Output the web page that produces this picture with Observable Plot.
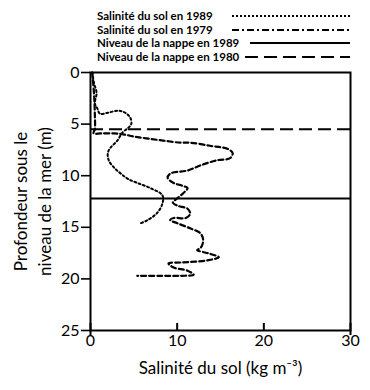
<!DOCTYPE html>
<html><head><meta charset="utf-8">
<script src="https://cdn.jsdelivr.net/npm/d3@7"></script>
<script src="https://cdn.jsdelivr.net/npm/@observablehq/plot@0.6"></script>
<style>
body{margin:0;background:#fff;font-family:Lato,"Open Sans",sans-serif;}
#legend{position:relative;width:370px;height:62px;}
.row{position:absolute;left:97px;font-weight:bold;font-size:11.5px;line-height:14px;color:#000;white-space:nowrap;}
.sample{position:absolute;}
</style>
</head><body>
<div id="legend"></div>
<div id="chart"></div>
<script>
// Salinité du sol en 1989 (kg m-3) vs depth (m)
const sal1989 = [0.2,0.4,0.7,0.5,0.8,1.1,2.0,3.2,4.0,4.6,4.7,4.3,3.7,3.1,2.3,2.0,2.1,2.7,3.5,4.3,5.4,6.9,8.3,8.3,7.7,6.6,5.8];
const depth1989 = [0,1,2,3,3.5,4.0,3.9,3.7,3.9,4.4,5.0,5.4,5.8,6.6,7.3,7.8,8.5,9.2,9.8,10.3,10.7,11.2,11.9,12.7,13.6,14.3,14.6];
// Salinité du sol en 1979
const sal1979 = [0.2,0.4,0.5,0.5,0.35,1.2,2.7,3.8,5.0,6.6,8.4,10.4,11.5,13.8,15.8,16.4,16.1,14.6,12.7,11.2,9.2,8.9,9.6,10.7,11.2,10.7,10.0,9.5,10.0,11.2,11.5,11.0,9.6,9.2,10.0,11.5,12.7,13.0,12.7,12.3,13.5,14.8,13.5,10.7,9.0,9.6,11.2,11.9,10.4,8.1,5.4];
const depth1979 = [0,2,4,5.5,5.9,5.9,5.9,6.0,6.2,6.4,6.6,6.8,6.8,7.1,7.4,7.8,8.3,8.5,9.0,9.5,9.8,10.2,10.7,11.0,11.2,11.7,12.2,12.6,12.9,13.2,13.7,14.1,14.1,14.3,14.6,15.1,15.6,16.3,17.0,17.2,17.5,17.9,18.2,18.4,18.5,18.9,19.2,19.6,19.7,19.7,19.7];
// Niveau de la nappe
const nappe1989 = [12.2];
const nappe1980 = [5.5];
const xTicks = [0,10,20,30];
const xEndTicks = [0,30];
const yTicks = [0,5,10,15,20,25];
const legendLabels = ["Salinité du sol en 1989","Salinité du sol en 1979","Niveau de la nappe en 1989","Niveau de la nappe en 1980"];

const d89 = sal1989.map((s,i)=>({s, d: depth1989[i]}));
const d79 = sal1979.map((s,i)=>({s, d: depth1979[i]}));

// legend
const styles = [
  {dash:"2,2", x1:232},
  {dash:"7,3,2,3", x1:232},
  {dash:null, x1:250},
  {dash:"13,6", x1:245}
];
const legend = document.getElementById("legend");
legendLabels.forEach((t,i)=>{
  const top = 9 + i*13.7;
  const r = document.createElement("div");
  r.className="row"; r.style.top = top+"px"; r.textContent = t;
  legend.appendChild(r);
  const st = styles[i];
  const svgNS="http://www.w3.org/2000/svg";
  const s = document.createElementNS(svgNS,"svg");
  s.setAttribute("class","sample");
  s.setAttribute("width",350-st.x1); s.setAttribute("height",6);
  s.style.left = st.x1+"px"; s.style.top = (top+4)+"px";
  const l = document.createElementNS(svgNS,"line");
  l.setAttribute("x1",0); l.setAttribute("x2",350-st.x1);
  l.setAttribute("y1",3); l.setAttribute("y2",3);
  l.setAttribute("stroke","#000"); l.setAttribute("stroke-width",2);
  if (st.dash) l.setAttribute("stroke-dasharray",st.dash);
  s.appendChild(l); legend.appendChild(s);
});

const chart = Plot.plot({
  width: 370, height: 328,
  marginTop: 10, marginLeft: 90, marginRight: 20, marginBottom: 60,
  style: {fontFamily: "Lato, 'Open Sans', sans-serif", fontSize: "15px", color: "#000", background: "#fff"},
  x: {domain: [0,30]},
  y: {domain: [0,25], reverse: true},
  marks: [
    Plot.axisX({ticks: xTicks, tickSize: -7, tickPadding: 11, strokeWidth: 2, label: null, fontSize: 16}),
    Plot.axisX({ticks: xEndTicks, tickSize: 5, tickFormat: () => "", strokeWidth: 2, label: null}),
    Plot.axisY({ticks: yTicks, tickSize: 9, tickPadding: 2, strokeWidth: 1.6, label: null, fontSize: 16}),
    Plot.text(["Salinité du sol (kg m⁻³)"], {frameAnchor: "bottom", dy: 38, fontSize: 17, lineAnchor: "middle"}),
    Plot.text(["Profondeur sous le\nniveau de la mer (m)"], {frameAnchor: "left", dx: -59, rotate: -90, fontSize: 17, lineHeight: 1.4, lineAnchor: "middle", textAnchor: "middle"}),
    Plot.ruleY(nappe1989, {stroke: "#000", strokeWidth: 2}),
    Plot.ruleY(nappe1980, {stroke: "#000", strokeWidth: 2, strokeDasharray: "13,6"}),
    Plot.line(d89, {x: "s", y: "d", stroke: "#000", strokeWidth: 2, strokeDasharray: "2,2.5", curve: "catmull-rom"}),
    Plot.line(d79, {x: "s", y: "d", stroke: "#000", strokeWidth: 2.2, strokeDasharray: "5,3", curve: "catmull-rom"}),
    Plot.frame({stroke: "#000", strokeWidth: 2})
  ]
});
document.getElementById("chart").appendChild(chart);
</script>
</body></html>
